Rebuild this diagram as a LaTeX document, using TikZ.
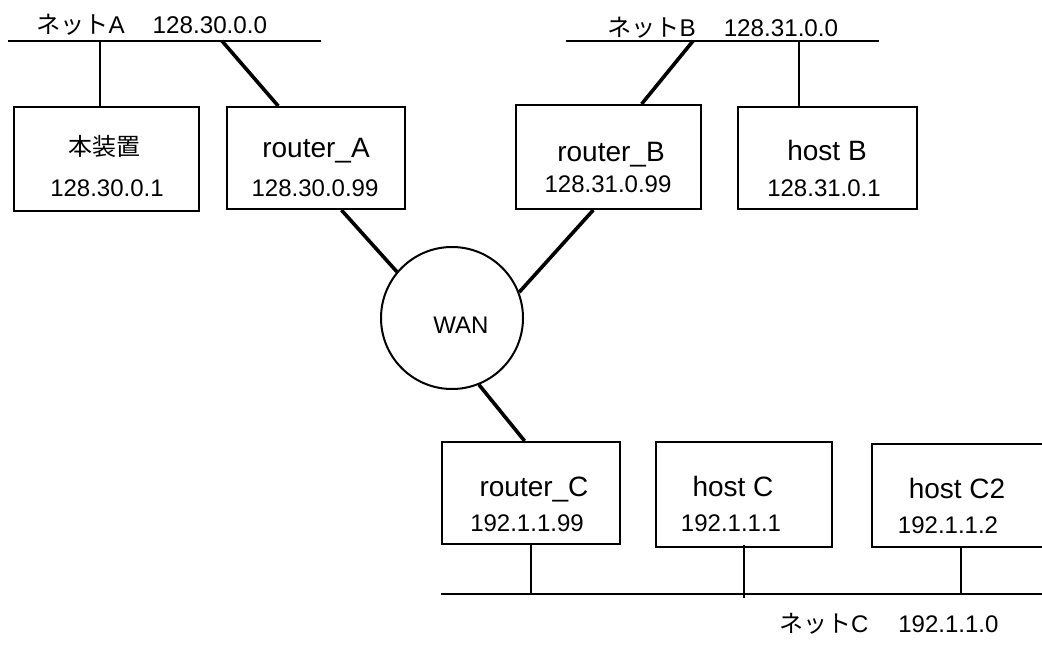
\documentclass[tikz,border=0pt]{standalone}
\usepackage{fontspec}
\setmainfont{Liberation Sans}
\newfontfamily\jp{Noto Sans CJK JP}
\usepackage{tikz}
\usetikzlibrary{calc}

\begin{document}
\begin{tikzpicture}[x=0.5pt,y=-0.5pt,line width=1pt]
    \tikzstyle{box}=[draw,rectangle,inner sep=0,minimum width=89pt,minimum height=51pt]
    \tikzstyle{wan circle}=[draw,circle,inner sep=0,minimum size=71pt]
    \tikzstyle{host text}=[anchor=base,inner sep=0,font=\fontsize{14}{16}\selectfont]
    \tikzstyle{addr text}=[anchor=base,inner sep=0,font=\fontsize{12}{14}\selectfont]
    \tikzstyle{net text}=[anchor=base west,inner sep=0,font=\fontsize{12.1}{14}\selectfont]
    \tikzstyle{trunk}=[line width=1.8pt]

    \clip (0,0) rectangle (1042,646);

    % the three networks
    \coordinate (na) at (8,41);   \coordinate (nae) at (321,41);
    \coordinate (nb) at (566,41); \coordinate (nbe) at (879,41);
    \coordinate (nc) at (441,594); \coordinate (nce) at (1050,594);
    \draw (na) -- (nae);
    \draw (nb) -- (nbe);
    \draw (nc) -- (nce);
    \node(nAt)[net text] at (35,34) {{\jp ネット}A\hspace{14pt}128.30.0.0};
    \node(nBt)[net text] at (606,37) {{\jp ネット}B\hspace{14pt}128.31.0.0};
    \node(nCt)[net text,font=\fontsize{12}{14}\selectfont] at (778,632) {{\jp ネット}C\hspace{15pt}192.1.1.0};

    % machines
    \node(A0)[box,minimum width=92.5pt,minimum height=52pt] at (106.5,159) {};
    \node(A1)[box] at (316,158) {};
    \node(B1)[box,minimum width=92.5pt,minimum height=52pt] at (608.5,157) {};
    \node(B2)[box,minimum width=89.5pt] at (827.5,158) {};
    \node(C1)[box] at (531,493) {};
    \node(C2)[box,minimum width=88pt,minimum height=52.5pt] at (744,494.5) {};
    \node(C3)[box,minimum width=89.5pt,minimum height=51.5pt] at (961,495.5) {};
    \node(W)[wan circle] at (452,318) {};

    \node(A0n)[addr text] at (104,156) {\jp 本装置};
    \node(A0a)[addr text] at (107,197) {128.30.0.1};
    \node(A1n)[host text] at (316,158) {router\_A};
    \node(A1a)[addr text] at (315,197) {128.30.0.99};
    \node(B1n)[host text] at (611,162) {router\_B};
    \node(B1a)[addr text] at (608,193) {128.31.0.99};
    \node(B2n)[host text] at (827,161) {host B};
    \node(B2a)[addr text] at (824,197) {128.31.0.1};
    \node(C1n)[host text] at (534,496) {router\_C};
    \node(C1a)[addr text] at (527,531) {192.1.1.99};
    \node(C2n)[host text] at (733,496) {host C};
    \node(C2a)[addr text] at (731,531) {192.1.1.1};
    \node(C3n)[host text] at (957,498) {host C2};
    \node(C3a)[addr text] at (948,533) {192.1.1.2};
    \node(Wn)[addr text] at (461,333) {WAN};

    % taps onto the networks
    \coordinate (a1) at (100,41);
    \coordinate (a2) at (222,41);
    \coordinate (b1) at (693,41);
    \coordinate (b2) at (799,41);
    \draw (a1) -- (a1 |- A0.north);
    \draw[trunk] (a2) -- (A1.126.7);
    \draw[trunk] (b1) -- (B1.58.8);
    \draw (b2) -- (b2 |- B2.north);
    \draw (C1.south) -- (C1.south |- nc);
    \draw ([yshift=1.5pt]C2.south) -- ([yshift=-2pt]C2.south |- nc);
    \draw (C3.south) -- (C3.south |- nc);

    % routers to the WAN
    \draw[trunk] (A1.-64.8) -- (W.140.6);
    \draw[trunk] (B1.-106.6) -- (W.21.2);
    \draw[trunk] (W.-68.5) -- (C1.97.8);
\end{tikzpicture}
\end{document}
